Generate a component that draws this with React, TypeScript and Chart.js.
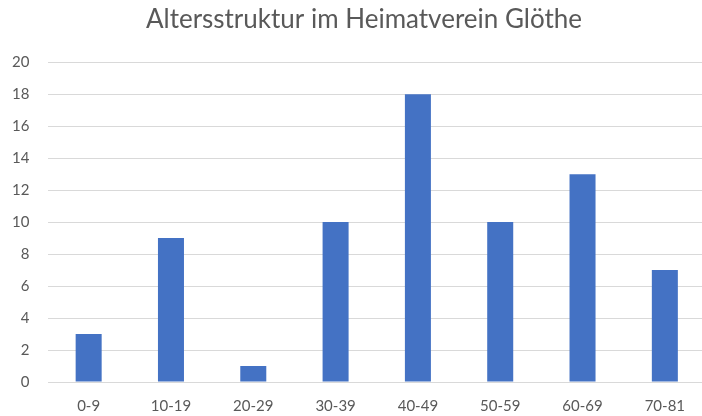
import React, { useEffect, useRef } from "react";
import { Chart, registerables } from "chart.js";

Chart.register(...registerables);

const categories = ["0-9", "10-19", "20-29", "30-39", "40-49", "50-59", "60-69", "70-81"];
const values = [3, 9, 1, 10, 18, 10, 13, 7];
const titleText = "Altersstruktur im Heimatverein Glöthe";

export default function App() {
  const ref = useRef<HTMLCanvasElement | null>(null);

  useEffect(() => {
    document.body.style.overflow = "hidden";
    const canvas = ref.current;
    if (!canvas) return;
    const chart = new Chart(canvas, {
      type: "bar",
      data: {
        labels: categories,
        datasets: [
          {
            data: values,
            backgroundColor: "#4472C4",
            barPercentage: 0.316,
            categoryPercentage: 1,
          },
        ],
      },
      options: {
        animation: false,
        responsive: false,
        maintainAspectRatio: false,
        devicePixelRatio: 1,
        layout: { padding: 0 },
        plugins: {
          legend: { display: false },
          tooltip: { enabled: false },
          title: {
            display: true,
            text: titleText,
            color: "#595959",
            font: { family: "Lato", size: 26, weight: "normal" },
            padding: { top: 4, bottom: 27 },
          },
        },
        scales: {
          x: {
            grid: { display: false, drawTicks: false },
            border: { display: false },
            ticks: {
              color: "#595959",
              font: { family: "Lato", size: 15 },
              padding: 15,
              maxRotation: 0,
              autoSkip: false,
            },
            afterFit: (s: any) => {
              s.height = 34;
            },
          },
          y: {
            min: 0,
            max: 20,
            grid: { color: "#D9D9D9", drawTicks: false, lineWidth: 1 },
            border: { display: false },
            ticks: {
              stepSize: 2,
              color: "#595959",
              font: { family: "Lato", size: 15 },
              padding: 18,
            },
            afterFit: (s: any) => {
              s.width = 47.5;
            },
          },
          yRight: {
            type: "linear",
            position: "right",
            min: 0,
            max: 20,
            grid: { display: false, drawTicks: false },
            border: { display: false },
            ticks: { display: false },
            afterFit: (s: any) => {
              s.width = 22;
            },
          },
        },
      },
    });
    return () => chart.destroy();
  }, []);

  return (
    <div style={{ position: "fixed", left: 0, top: 0, width: 728, height: 416, background: "#fff" }}>
      <canvas ref={ref} width={728} height={416} style={{ display: "block" }} />
    </div>
  );
}
